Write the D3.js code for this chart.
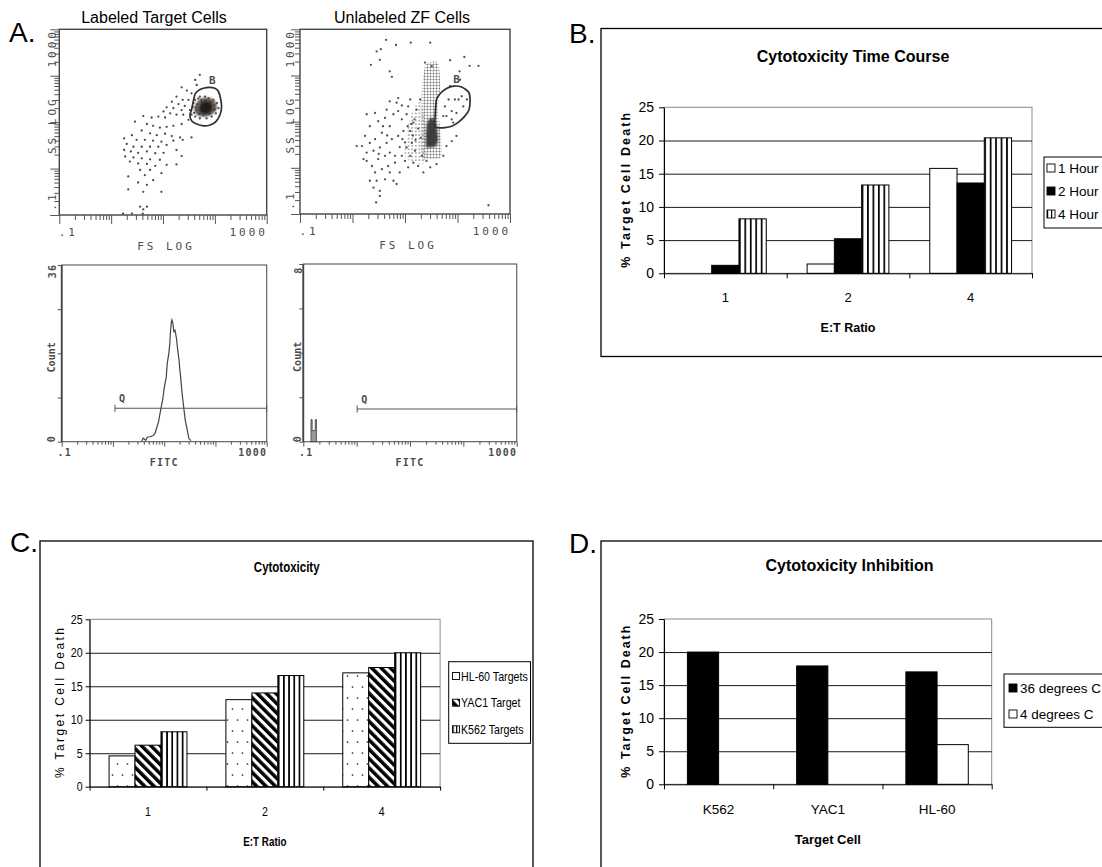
<!DOCTYPE html>
<html><head><meta charset="utf-8">
<script src="https://cdn.jsdelivr.net/npm/d3@7"></script>
<style>
html,body{margin:0;padding:0;background:#fff;}
svg{display:block;}
text{font-family:"Liberation Sans",Arial,sans-serif;fill:#000;}
text.mono{font-family:"DejaVu Sans Mono",monospace;fill:#4d4d4d;}
</style></head><body>
<svg id="fig" width="1102" height="867"></svg>
<script>
// ---------------- bar chart data ----------------
const etRatios = ["1", "2", "4"];
const timeSeries = ["1 Hour", "2 Hour", "4 Hour"];
const hour1 = [0, 1.4, 15.8];
const hour2 = [1.2, 5.2, 13.6];
const hour4 = [8.2, 13.3, 20.4];

const targetSeries = ["HL-60 Targets", "YAC1 Target", "K562 Targets"];
const hl60Death = [4.6, 13.0, 17.0];
const yac1Death = [6.2, 14.0, 17.8];
const k562Death = [8.2, 16.6, 20.0];

const targetCells = ["K562", "YAC1", "HL-60"];
const tempSeries = ["36 degrees C", "4 degrees C"];
const deg36 = [20.0, 17.9, 17.0];
const deg4 = [0, 0, 6.0];

const deathTicks = [0, 5, 10, 15, 20, 25];

// ---------------- flow cytometry data (log10 units) ----------------
// [log FS, log SS] events, labeled target cells
const labeledEvents = [
  [1.71,2.02],[1.62,1.91],[1.65,1.80],[1.36,1.75],[1.46,1.68],[1.55,1.62],[1.26,1.55],[1.38,1.48],
  [1.49,1.48],[1.17,1.44],[1.30,1.39],[1.42,1.35],[1.07,1.32],[1.20,1.30],[1.36,1.26],[1.01,1.23],
  [1.14,1.19],[1.26,1.16],[1.39,1.16],[0.91,1.12],[1.04,1.10],[0.62,1.13],[0.78,1.10],[0.46,1.01],
  [0.69,0.96],[0.81,0.92],[0.94,0.88],[1.07,0.90],[1.20,0.92],[1.36,0.96],[1.49,1.05],[0.59,0.82],
  [0.75,0.76],[0.88,0.72],[1.04,0.75],[1.17,0.70],[1.33,0.67],[1.55,0.67],[0.40,0.72],[0.25,0.65],
  [0.49,0.62],[0.65,0.62],[0.81,0.60],[0.97,0.58],[1.20,0.60],[1.38,0.62],[0.30,0.53],[0.43,0.47],
  [0.59,0.47],[0.75,0.47],[0.91,0.47],[1.07,0.51],[0.25,0.40],[0.38,0.37],[0.52,0.34],[0.69,0.37],
  [0.85,0.33],[1.01,0.34],[1.26,0.40],[0.27,0.26],[0.43,0.24],[0.59,0.22],[0.75,0.20],[0.94,0.19],
  [1.36,0.27],[0.36,0.15],[0.52,0.11],[0.69,0.10],[0.85,0.06],[1.07,0.08],[1.26,0.09],[0.75,-0.03],
  [0.56,-0.03],[0.33,-0.17],[0.65,-0.14],[0.97,-0.10],[0.81,-0.25],[0.52,-0.30],[0.69,-0.35],
  [0.33,-0.45],[0.62,-0.50],[0.97,-0.50],[0.56,-0.82],[0.62,-0.88],[0.69,-0.82],[0.23,-0.97],
  [0.40,-0.97],[0.61,-0.97],
  [1.52,1.26],[1.55,1.16],[1.59,1.41],[1.62,1.48],[1.68,1.51],[1.71,1.55],[1.81,1.55],[1.88,1.51],
  [1.97,1.48],[2.04,1.41],[2.07,1.30],[2.02,1.19],[1.94,1.12],[1.84,1.08],[1.71,1.08],[1.62,1.12],
  [1.65,1.26],[1.75,1.44],[1.91,1.39],[1.97,1.26],[1.57,1.33],[1.60,1.20],[1.66,1.38],[1.70,1.18],
  [1.78,1.16],[1.86,1.22],[1.93,1.43],[1.99,1.36],[1.74,1.48],[1.83,1.47],[1.90,1.18],[2.00,1.28],[1.63,1.32]
];
const labeledCoreOuter = [[1.60,1.30],[1.63,1.18],[1.72,1.12],[1.85,1.12],[1.97,1.18],[2.04,1.30],[2.02,1.43],[1.94,1.51],[1.80,1.53],[1.68,1.47]];
const labeledCoreInner = [[1.70,1.28],[1.74,1.20],[1.83,1.18],[1.92,1.23],[1.95,1.33],[1.91,1.42],[1.82,1.45],[1.74,1.40]];
const labeledGate = [[1.55,1.26],[1.52,1.16],[1.55,1.03],[1.65,0.96],[1.78,0.92],[1.91,0.94],[2.02,1.01],[2.10,1.16],
  [2.13,1.33],[2.11,1.51],[2.07,1.66],[2.00,1.73],[1.89,1.75],[1.78,1.73],[1.68,1.68],[1.62,1.61],[1.59,1.48],[1.57,1.37]];
const labeledGateLabel = [1.95, 1.91];

// [log FS, log SS] events, unlabeled zebrafish cells
const unlabeledEvents = [
  [0.64,2.77],[0.46,2.52],[0.54,2.57],[0.83,2.66],[1.11,2.71],[1.48,2.71],[0.35,2.23],[0.52,2.34],
  [1.38,2.28],[1.86,2.33],[2.13,2.40],[2.23,2.21],[2.40,2.21],[2.04,2.09],[0.71,2.09],[0.75,1.97],
  [1.51,2.20],[0.18,0.47],[0.27,1.16],[0.33,0.90],[0.43,1.19],[0.49,1.01],[0.62,1.08],[0.71,0.90],
  [0.84,1.41],[0.87,1.23],[0.78,1.16],[0.94,1.05],[1.03,1.16],[0.56,0.76],[0.43,0.62],[0.33,0.54],
  [0.27,0.33],[0.40,0.37],[0.52,0.44],[0.65,0.54],[0.75,0.62],[0.87,0.69],[0.97,0.80],[0.62,0.26],
  [0.49,0.19],[0.37,0.04],[0.27,0.15],[0.43,-0.10],[0.56,-0.03],[0.68,0.04],[0.81,0.11],[0.94,0.26],
  [1.03,0.44],[1.13,0.54],[0.33,-0.28],[0.46,-0.28],[0.62,-0.25],[0.78,-0.28],[0.84,-0.35],[0.40,-0.43],
  [0.52,-0.50],[0.45,-0.75],[0.52,-0.61],[1.29,1.48],[1.10,1.48],[1.06,1.33],[1.16,0.98],[1.22,1.26],
  [0.65,1.26],[0.71,1.44],[0.87,1.51],[0.94,1.35],[0.08,0.47],[0.24,0.69],[0.21,0.19],[0.71,0.33],
  [0.81,0.26],[0.90,-0.10],[0.71,-0.10],[1.00,0.15],[1.10,0.26],[1.19,0.37],[1.32,0.26],[1.41,0.15],
  [1.25,0.04],[1.16,0.11],[1.06,0.01],[1.35,-0.10],[1.48,0.01],[1.60,0.08],[1.73,0.26],[1.79,0.47],
  [1.89,0.58],[1.98,0.69],[1.73,1.12],[1.76,1.33],[1.83,1.48],[2.02,1.48],[2.11,1.33],[1.98,1.19],
  [1.89,1.05],[1.86,1.77],[2.05,1.91],[1.89,1.23],[2.08,1.55],[1.95,1.48],[2.18,1.48],[1.79,1.12],
  [1.92,0.98],[2.59,-0.81],[1.10,0.80],[1.15,0.70],[1.20,0.60],[1.05,0.90],[1.25,0.85],[1.18,1.05],
  [1.12,0.95],[1.30,0.65],[1.00,0.55],[0.95,0.62],[0.58,0.90],[0.66,0.70],[0.50,0.30],[0.90,0.45]
];
const unlabeledSpread = [[1.00,0.26],[1.03,0.76],[1.13,1.19],[1.32,1.41],[1.41,0.19],[1.19,0.11]];
const unlabeledBand = [[1.32,0.26],[1.32,1.62],[1.36,2.05],[1.41,2.27],[1.63,2.27],[1.67,1.77],[1.63,1.26],[1.68,0.76],[1.70,0.26],[1.60,0.19],[1.41,0.19]];
const unlabeledCore = [[1.40,0.47],[1.41,0.90],[1.46,1.05],[1.54,1.08],[1.60,0.90],[1.63,0.62],[1.59,0.47],[1.48,0.44]];
const unlabeledGate = [[1.57,0.90],[1.58,1.26],[1.60,1.48],[1.68,1.62],[1.79,1.72],[1.92,1.77],[2.08,1.75],[2.21,1.64],
  [2.24,1.48],[2.22,1.26],[2.14,1.12],[2.02,0.99],[1.89,0.90],[1.76,0.87],[1.63,0.87]];
const unlabeledGateLabel = [1.98, 1.91];

// FITC histograms: log10 FITC channel and event count
const labeledFitcLog = [0.56,0.59,0.64,0.67,0.72,0.78,0.82,0.85,0.89,0.92,0.95,0.97,1.00,1.04,1.06,1.09,1.11,1.12,
  1.14,1.15,1.17,1.18,1.19,1.21,1.22,1.24,1.26,1.29,1.30,1.32,1.35,1.38,1.41,1.45,1.48,1.52];
const labeledFitcCount = [0.1,0.7,0.3,0.9,1.0,1.2,1.7,2.7,4.1,5.8,7.5,8.5,10.9,13.2,16.0,18.0,20.0,22.1,
  24.4,24.8,24.1,23.1,22.4,22.7,22.2,21.0,19.0,16.6,15.3,13.2,9.8,7.1,4.4,2.4,0.7,0.2];
const unlabeledFitcLog = [-0.875,-0.855,-0.835,-0.815,-0.795,-0.775,-0.755,-0.735];
const unlabeledFitcCount = [0, 1, 0.5, 0.5, 0.5, 1, 0, 0];
const labeledGateQ = {from: 0.04, to: 3, count: 6.8};
const unlabeledGateQ = {from: 0.01, to: 3, count: 1.47};

// ---------------- drawing ----------------
const svg = d3.select("#fig");
svg.append("rect").attr("width", 1102).attr("height", 867).attr("fill", "#fff");
const defs = svg.append("defs");

// vertical stripes that line up with each bar's edges
function stripePattern(id, cells, w) {
  const p = defs.append("pattern").attr("id", id).attr("patternUnits", "objectBoundingBox")
    .attr("width", 1 / cells).attr("height", 1);
  p.append("rect").attr("width", 200).attr("height", 2000).attr("fill", "#fff");
  p.append("rect").attr("x", 0).attr("width", w).attr("height", 2000).attr("fill", "#000");
}
stripePattern("vstripe", 5, 1.7);
stripePattern("vstripeKey", 2, 1.2);

const diag = defs.append("pattern").attr("id", "diag").attr("patternUnits", "userSpaceOnUse")
  .attr("width", 6.6).attr("height", 6.6).attr("patternTransform", "rotate(-45)");
diag.append("rect").attr("width", 6.6).attr("height", 6.6).attr("fill", "#fff");
diag.append("rect").attr("width", 3.5).attr("height", 6.6).attr("fill", "#000");

const dots = defs.append("pattern").attr("id", "dots").attr("patternUnits", "userSpaceOnUse")
  .attr("width", 10).attr("height", 22);
dots.append("rect").attr("width", 10).attr("height", 22).attr("fill", "#fff");
dots.append("circle").attr("cx", 2.5).attr("cy", 5).attr("r", 0.85).attr("fill", "#222");
dots.append("circle").attr("cx", 7.5).attr("cy", 16).attr("r", 0.85).attr("fill", "#222");

const lattice = defs.append("pattern").attr("id", "lattice").attr("patternUnits", "userSpaceOnUse")
  .attr("width", 3).attr("height", 3);
lattice.append("circle").attr("cx", 1.5).attr("cy", 1.5).attr("r", 1.0).attr("fill", "#747474");
const latticeLight = defs.append("pattern").attr("id", "latticeLight").attr("patternUnits", "userSpaceOnUse")
  .attr("width", 3.6).attr("height", 3.6);
latticeLight.append("circle").attr("cx", 1.8).attr("cy", 1.8).attr("r", 0.9).attr("fill", "#939393");

const soft = defs.append("filter").attr("id", "soft").attr("x", "-20%").attr("y", "-20%").attr("width", "140%").attr("height", "140%");
soft.append("feGaussianBlur").attr("stdDeviation", 1.3);

function condense(sel, k) {
  sel.each(function () {
    const L = this.getComputedTextLength();
    this.setAttribute("textLength", (L * k).toFixed(1));
    this.setAttribute("lengthAdjust", "spacingAndGlyphs");
  });
}

// panel letters
[["A.", 9, 42], ["B.", 569, 43], ["C.", 10, 552], ["D.", 569, 553]].forEach(([t, x, y]) =>
  svg.append("text").attr("x", x).attr("y", y).attr("font-size", 28).text(t));

// ----- flow cytometry helpers -----
const decadeMajor = [-1, 0, 1, 2, 3];
const decadeMinor = d3.range(-1, 3).flatMap(d => d3.range(2, 10).map(k => d + Math.log10(k)));

function monoText(g, x, y, str, o) {
  const t = g.append("text").attr("class", "mono").attr("x", x).attr("y", y).attr("dy", "0.35em")
    .attr("text-anchor", "middle").attr("font-size", o.size).attr("letter-spacing", o.ls || 0)
    .attr("font-weight", o.bold ? "bold" : "normal").text(str);
  if (o.rot) t.attr("transform", `rotate(-90,${x},${y})`);
  return t;
}

function logAxes(g, x, y, sizes, leftOnly) {
  const bottom = y.range()[0];
  const left = x.range()[0];
  [[decadeMajor, sizes.major], [decadeMinor, sizes.minor]].forEach(([vals, s]) => {
    g.append("g").attr("transform", `translate(0,${bottom})`)
      .call(d3.axisBottom(x).tickValues(vals).tickSize(s).tickSizeOuter(0).tickFormat(""))
      .call(a => a.select(".domain").remove())
      .selectAll("line").attr("stroke", "#555");
    if (!leftOnly) {
      g.append("g").attr("transform", `translate(${left},0)`)
        .call(d3.axisLeft(y).tickValues(vals).tickSize(s).tickSizeOuter(0).tickFormat(""))
        .call(a => a.select(".domain").remove())
        .selectAll("line").attr("stroke", "#555");
    }
  });
}

function scatterPlot(f) {
  const g = svg.append("g");
  const x = d3.scaleLinear().domain([-1, 3]).range([f.x0, f.x1]);
  const y = d3.scaleLinear().domain([-1, 3]).range([f.y1, f.y0]);
  const poly = d3.line().x(d => x(d[0])).y(d => y(d[1])).curve(d3.curveCardinalClosed.tension(0.3));
  g.append("text").attr("x", f.titleX).attr("y", 22.5).attr("text-anchor", "middle")
    .attr("font-size", 16).text(f.title);
  const clip = "clip" + f.id;
  defs.append("clipPath").attr("id", clip).append("rect")
    .attr("x", f.x0).attr("y", f.y0).attr("width", f.x1 - f.x0).attr("height", f.y1 - f.y0);
  const inner = g.append("g").attr("clip-path", `url(#${clip})`);
  (f.regions || []).forEach(r => inner.append("path").attr("d", poly(r.pts)).attr("fill", r.fill)
    .attr("opacity", r.opacity || 1));
  inner.selectAll("circle.ev").data(f.events).join("circle").attr("class", "ev")
    .attr("cx", d => x(d[0])).attr("cy", d => y(d[1])).attr("r", 1.15).attr("fill", f.dot);
  (f.cores || []).forEach(r => inner.append("path").attr("d", poly(r.pts)).attr("fill", r.fill)
    .attr("filter", "url(#soft)").attr("opacity", r.opacity || 1));
  g.append("path").attr("d", poly(f.gate)).attr("fill", "none").attr("stroke", "#2f2f2f").attr("stroke-width", 1.7);
  monoText(g, x(f.gateLabel[0]), y(f.gateLabel[1]), "B", {size: 11, bold: true});
  g.append("rect").attr("x", f.x0).attr("y", f.y0).attr("width", f.x1 - f.x0).attr("height", f.y1 - f.y0)
    .attr("fill", "none").attr("stroke", "#444").attr("stroke-width", 1.4);
  logAxes(g, x, y, {major: 9, minor: 5});
  const lab = {size: 11, ls: 3};
  monoText(g, f.x0 + 9, f.y1 + 17, ".1", lab);
  monoText(g, f.x1 - 18, f.y1 + 17, "1000", lab);
  monoText(g, (f.x0 + f.x1) / 2 + 3, f.y1 + 31.5, "FS LOG", lab);
  monoText(g, f.yLabX, f.y0 + 19, "1000", {...lab, rot: true});
  monoText(g, f.yLabX, (f.y0 + f.y1) / 2 + 3, "SS LOG", {...lab, rot: true});
  monoText(g, f.yLabX, f.y1 - 14, ".1", {...lab, rot: true});
}

function histogram(f) {
  const g = svg.append("g");
  const x = d3.scaleLinear().domain([-1, 3]).range([f.x0, f.x1]);
  const y = d3.scaleLinear().domain([0, f.max]).range([f.y1, f.y0]);
  const pts = f.logs.map((v, i) => [v, f.counts[i]]);
  if (f.step) {
    g.append("path").attr("d", d3.area().x(d => x(d[0])).y0(y(0)).y1(d => y(d[1])).curve(d3.curveStepAfter)(pts))
      .attr("fill", "#9a9a9a").attr("stroke", "#555").attr("stroke-width", 1);
  } else {
    g.append("path").attr("d", d3.line().x(d => x(d[0])).y(d => y(d[1]))(pts))
      .attr("fill", "none").attr("stroke", "#444").attr("stroke-width", 1.2);
  }
  const q = f.gateQ;
  g.append("line").attr("x1", x(q.from)).attr("x2", x(q.to)).attr("y1", y(q.count)).attr("y2", y(q.count))
    .attr("stroke", "#555").attr("stroke-width", 1.1);
  [q.from, q.to].forEach(v => g.append("line").attr("x1", x(v)).attr("x2", x(v))
    .attr("y1", y(q.count) - 3.5).attr("y2", y(q.count) + 3.5).attr("stroke", "#555"));
  monoText(g, x(q.from) + 7, y(q.count) - 10, "Q", {size: 10, bold: true});
  g.append("rect").attr("x", f.x0).attr("y", f.y0).attr("width", f.x1 - f.x0).attr("height", f.y1 - f.y0)
    .attr("fill", "none").attr("stroke", "#555").attr("stroke-width", 1.1);
  g.append("line").attr("x1", f.x0).attr("x2", f.x0).attr("y1", f.y0).attr("y2", f.y1)
    .attr("stroke", "#444").attr("stroke-width", 1.8);
  logAxes(g, x, y, {major: 5, minor: 3}, true);
  g.append("g").attr("transform", `translate(${f.x0},0)`)
    .call(d3.axisLeft(y).tickValues(d3.range(0, f.max + 0.01, f.max / 4)).tickSize(4).tickSizeOuter(0).tickFormat(""))
    .call(a => a.select(".domain").remove())
    .selectAll("line").attr("stroke", "#555");
  const lab = {size: 10, ls: 1.2, bold: true};
  monoText(g, f.x0 + 3, f.y1 + 11, ".1", lab);
  monoText(g, f.x1 - 14, f.y1 + 11, "1000", lab);
  monoText(g, (f.x0 + f.x1) / 2, f.y1 + 20.5, "FITC", lab);
  monoText(g, f.yLabX, f.y0 + 6, String(f.max), {...lab, rot: true});
  monoText(g, f.yLabX, (f.y0 + f.y1) / 2 + 4, "Count", {size: 10, bold: true, rot: true});
  monoText(g, f.yLabX, f.y1 - 3, "0", {...lab, rot: true});
}

scatterPlot({id: "s1", title: "Labeled Target Cells", titleX: 154, x0: 59.3, x1: 266.7, y0: 29.3, y1: 215,
  yLabX: 52, events: labeledEvents, dot: "#4a4a4a", gate: labeledGate, gateLabel: labeledGateLabel,
  cores: [{pts: labeledCoreOuter, fill: "#4e4540", opacity: 0.85}, {pts: labeledCoreInner, fill: "#231a15"}]});
scatterPlot({id: "s2", title: "Unlabeled ZF Cells", titleX: 402, x0: 300, x1: 510, y0: 29.3, y1: 214,
  yLabX: 290, events: unlabeledEvents, dot: "#505050", gate: unlabeledGate, gateLabel: unlabeledGateLabel,
  regions: [{pts: unlabeledSpread, fill: "url(#latticeLight)"}, {pts: unlabeledBand, fill: "url(#lattice)"}],
  cores: [{pts: unlabeledCore, fill: "#2e2e2e", opacity: 0.9}]});
histogram({x0: 61.7, x1: 266.7, y0: 265, y1: 441.7, max: 36, yLabX: 52,
  logs: labeledFitcLog, counts: labeledFitcCount, gateQ: labeledGateQ});
histogram({x0: 303.3, x1: 516.7, y0: 264, y1: 441.7, max: 8, yLabX: 298, step: true,
  logs: unlabeledFitcLog, counts: unlabeledFitcCount, gateQ: unlabeledGateQ});

// ----- spreadsheet-style bar charts -----
function barChart(c) {
  const g = svg.append("g");
  g.append("rect").attr("x", c.frame[0]).attr("y", c.frame[1]).attr("width", c.frame[2]).attr("height", c.frame[3])
    .attr("fill", "#fff").attr("stroke", "#000").attr("stroke-width", 1.3);
  const x = d3.scaleBand().domain(c.categories).range([c.x0, c.x1]);
  const xs = d3.scaleBand().domain(d3.range(c.series.length)).range([0, x.bandwidth()]).paddingOuter(0.75);
  const y = d3.scaleLinear().domain([0, 25]).range([c.y0, c.y25]);
  const texts = [];

  g.append("rect").attr("x", c.x0).attr("y", c.y25).attr("width", c.x1 - c.x0).attr("height", c.y0 - c.y25)
    .attr("fill", "none").attr("stroke", "#8a8a8a").attr("stroke-width", 1);
  g.append("g").attr("transform", `translate(${c.x0},0)`)
    .call(d3.axisLeft(y).tickValues(deathTicks.filter(v => v > 0 && v < 25)).tickSize(-(c.x1 - c.x0)).tickFormat(""))
    .call(a => a.select(".domain").remove())
    .selectAll("line").attr("stroke", "#1c1c1c");

  c.values.forEach((vals, si) => {
    g.append("g").selectAll("rect").data(vals).join("rect")
      .attr("x", (v, i) => x(c.categories[i]) + xs(si)).attr("y", v => y(v))
      .attr("width", xs.bandwidth()).attr("height", v => y(0) - y(v))
      .attr("fill", c.fills[si]).attr("stroke", "#000").attr("stroke-width", 1);
  });

  const ya = g.append("g").attr("transform", `translate(${c.x0},0)`)
    .call(d3.axisLeft(y).tickValues(deathTicks).tickSize(c.tick).tickSizeOuter(0).tickPadding(c.yPad));
  ya.attr("font-size", c.tickFont).attr("font-family", null);
  ya.selectAll("line,path").attr("stroke", "#000");
  texts.push(ya.selectAll("text"));

  const xi = d3.scaleLinear().domain([0, c.categories.length]).range([c.x0, c.x1]);
  g.append("g").attr("transform", `translate(0,${c.y0})`)
    .call(d3.axisBottom(xi).tickValues(d3.range(c.categories.length + 1)).tickSize(c.tick).tickSizeOuter(0).tickFormat(""))
    .selectAll("line,path").attr("stroke", "#000");
  const xl = g.append("g").attr("transform", `translate(0,${c.y0})`)
    .call(d3.axisBottom(x).tickSize(0).tickPadding(c.xPad));
  xl.select(".domain").remove();
  xl.attr("font-size", c.catFont).attr("font-family", null);
  texts.push(xl.selectAll("text"));

  texts.push(g.append("text").attr("x", c.titleX).attr("y", c.titleY).attr("text-anchor", "middle")
    .attr("font-size", c.titleFont).attr("font-weight", "bold").text(c.title));
  texts.push(g.append("text").attr("x", (c.x0 + c.x1) / 2).attr("y", c.xTitleY).attr("text-anchor", "middle")
    .attr("font-size", c.xTitleFont).attr("font-weight", "bold").text(c.xTitle));
  const ym = (c.y0 + c.y25) / 2;
  g.append("text").attr("transform", `translate(${c.yTitleX},${ym}) rotate(-90)`).attr("dy", "0.35em")
    .attr("text-anchor", "middle").attr("font-size", c.yTitleFont).attr("font-weight", c.yTitleWeight)
    .attr("textLength", c.yTitleLen).attr("lengthAdjust", "spacing").text("% Target Cell Death");

  const L = c.legend;
  g.append("rect").attr("x", L.x).attr("y", L.y).attr("width", L.w).attr("height", L.h)
    .attr("fill", "#fff").attr("stroke", "#000").attr("stroke-width", 1);
  c.series.forEach((s, i) => {
    g.append("rect").attr("x", L.sx).attr("y", L.items[i] - L.sw / 2).attr("width", L.sw).attr("height", L.sw)
      .attr("fill", c.keyFills[i]).attr("stroke", "#000").attr("stroke-width", 0.9);
    texts.push(g.append("text").attr("x", L.tx).attr("y", L.items[i]).attr("dy", "0.35em")
      .attr("font-size", L.font).text(s));
  });
  if (c.condense) texts.forEach(t => condense(t, c.condense));
}

barChart({
  frame: [601, 28.5, 600, 328], x0: 664, x1: 1032, y0: 273.3, y25: 107.3,
  categories: etRatios, series: timeSeries, values: [hour1, hour2, hour4],
  fills: ["#fff", "#000", "url(#vstripe)"], keyFills: ["#fff", "#000", "url(#vstripeKey)"],
  tick: 5, yPad: 5, tickFont: 14, xPad: 19, catFont: 13,
  title: "Cytotoxicity Time Course", titleX: 853, titleY: 61.5, titleFont: 16,
  xTitle: "E:T Ratio", xTitleY: 331.5, xTitleFont: 12.5,
  yTitleX: 626, yTitleFont: 12.5, yTitleWeight: "bold", yTitleLen: 155,
  legend: {x: 1044, y: 157, w: 120, h: 71, sx: 1047, sw: 8, tx: 1058, items: [168, 191, 214], font: 13.5}
});

barChart({
  frame: [40, 541, 493, 340], x0: 89.6, x1: 440.1, y0: 786.7, y25: 619.3,
  categories: etRatios, series: targetSeries, values: [hl60Death, yac1Death, k562Death],
  fills: ["url(#dots)", "url(#diag)", "url(#vstripe)"], keyFills: ["#fff", "url(#diag)", "url(#vstripeKey)"],
  tick: 4, yPad: 3, tickFont: 13, xPad: 20.5, catFont: 13, condense: 0.82,
  title: "Cytotoxicity", titleX: 286.7, titleY: 572, titleFont: 14,
  xTitle: "E:T Ratio", xTitleY: 846, xTitleFont: 12,
  yTitleX: 60, yTitleFont: 12, yTitleWeight: "normal", yTitleLen: 150,
  legend: {x: 448.7, y: 661.7, w: 81.8, h: 81.6, sx: 452.5, sw: 7, tx: 461, items: [676, 702.7, 729.3], font: 13}
});

barChart({
  frame: [601, 541, 600, 340], x0: 664, x1: 991.7, y0: 784.3, y25: 619,
  categories: targetCells, series: tempSeries, values: [deg36, deg4],
  fills: ["#000", "#fff"], keyFills: ["#000", "#fff"],
  tick: 5, yPad: 5, tickFont: 14, xPad: 20, catFont: 13.5,
  title: "Cytotoxicity Inhibition", titleX: 849.5, titleY: 570.5, titleFont: 16,
  xTitle: "Target Cell", xTitleY: 844, xTitleFont: 13,
  yTitleX: 626, yTitleFont: 12.5, yTitleWeight: "bold", yTitleLen: 152,
  legend: {x: 1004, y: 674, w: 120, h: 53.3, sx: 1009, sw: 8, tx: 1020, items: [688, 714], font: 13.5}
});
</script>
</body></html>
